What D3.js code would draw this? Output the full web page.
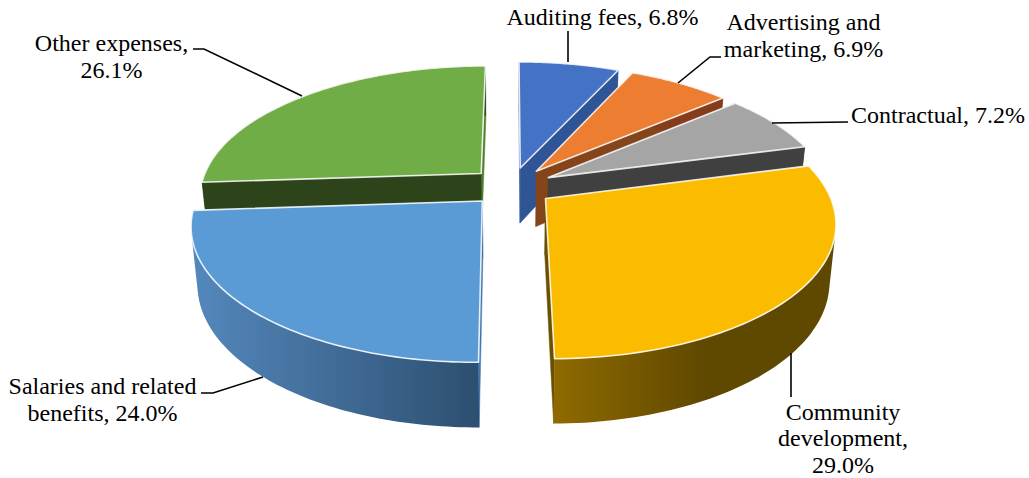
<!DOCTYPE html>
<html>
<head>
<meta charset="utf-8">
<script src="https://cdn.jsdelivr.net/npm/d3@7/dist/d3.min.js"></script>
<style>
html,body{margin:0;padding:0;background:#fff;}
svg{display:block;}
text{font-family:"Liberation Serif",serif;font-size:24px;fill:#000;}
</style>
</head>
<body>
<svg id="chart" width="1029" height="478"></svg>
<script>
// Data
const categories = ["Auditing fees","Advertising and marketing","Contractual","Community development","Salaries and related benefits","Other expenses"];
const shares = [6.8,6.9,7.2,29.0,24.0,26.1];
const labelLines = [["Auditing fees, 6.8%"],["Advertising and","marketing, 6.9%"],["Contractual, 7.2%"],["Community","development,","29.0%"],["Salaries and related","benefits, 24.0%"],["Other expenses,","26.1%"]];

// Styling
const topColors = ["#4472c4","#ed7d31","#a5a5a5","#fbbc00","#5b9bd5","#70ad47"];
const wallFrom = ["#2f5597","#843c1a","#404040","#8f6a00","#5488bd","#2d431a"];
const wallTo   = ["#2f5597","#843c1a","#404040","#5f4800","#2d4f70","#2d431a"];
const startFace = ["#2f5597","#84451a","#404040","#6b5000","#3f75b0","#2d431a"];
const endFace   = ["#2f5597","#84451a","#404040","#6b5000","#3f75b0","#4f7f2e"];

// Layout
const labelAnchors = [[602.5,25],[803.5,29.5],[938,123],[843,420],[102.5,394],[111.5,51]];
const lineSteps = [27.3,27.3,27.3,26.4,27.3,27.3];
const leaders = [
  [[568,62],[568,31]],
  [[678,83],[710,57],[721,57]],
  [[772,123],[848,122]],
  [[791,353],[791,397]],
  [[263,377],[213,393],[201,393]],
  [[302,96],[204,49],[193,49]]
];
const vx=511.5, vy=186.5, R=281, Ry=129.3, k=0.1655, explode=0.15, h=56, zs=0.98;

const svg = d3.select("#chart");
const defs = svg.append("defs");
const pie = d3.pie().sort(null).value(d=>d);
const arcs = pie(shares);
const line = d3.line();

function project(X,Y,bottom){
  const s = 1/(1+k*Y), z = bottom?zs:1;
  return [vx+R*X*s*z, vy-Ry*Y*s*z+(bottom?h*s:0)];
}
function quad(a,b,c,d){
  const area = d3.polygonArea([a,b,c,d]);
  return line(area>0?[a,b,c,d]:[d,c,b,a])+"Z";
}
// paint back to front
const order = [5,0,1,2,4,3];

order.forEach(i=>{
  const a = arcs[i], mid=(a.startAngle+a.endAngle)/2;
  const cx = explode*Math.sin(mid), cy = explode*Math.cos(mid);
  const n = 80;
  const ang = d3.scaleLinear().domain([0,n]).range([a.startAngle,a.endAngle]);
  const rimXY = d3.range(n+1).map(j=>[cx+Math.sin(ang(j)),cy+Math.cos(ang(j))]);
  const rimTop = rimXY.map(p=>project(p[0],p[1],false));
  const rimBot = rimXY.map(p=>project(p[0],p[1],true));
  const apexT = project(cx,cy,false), apexB = project(cx,cy,true);

  const xs = rimTop.map(p=>p[0]);
  const gid = "wall"+i;
  const g = defs.append("linearGradient").attr("id",gid).attr("gradientUnits","userSpaceOnUse")
    .attr("x1",d3.min(xs)).attr("x2",i===3?d3.min(xs)+150:d3.max(xs)).attr("y1",0).attr("y2",0);
  g.append("stop").attr("offset",0).attr("stop-color",wallFrom[i]);
  g.append("stop").attr("offset",1).attr("stop-color",wallTo[i]);

  const grp = svg.append("g").attr("class","slice").attr("data-name",categories[i]);
  const face = (j,c)=>grp.append("path")
      .attr("d",line([apexT,rimTop[j],rimBot[j],apexB])+"Z")
      .attr("fill",c).attr("stroke",c).attr("stroke-width",0.5);
  // the face turned toward the viewer is painted last
  if(i>=4){ face(n,endFace[i]); face(0,startFace[i]); }
  else    { face(0,startFace[i]); face(n,endFace[i]); }
  // outer wall built from quads so its silhouette follows the tangent lines
  const wallPath = d3.range(n).map(j=>quad(rimTop[j],rimTop[j+1],rimBot[j+1],rimBot[j])).join("");
  grp.append("path").attr("d",wallPath).attr("fill",`url(#${gid})`).attr("stroke","none");
  // top
  grp.append("path")
    .attr("d",line([apexT].concat(rimTop))+"Z")
    .attr("fill",topColors[i]).attr("stroke","#fff").attr("stroke-opacity",0.85)
    .attr("stroke-width",1.6).attr("stroke-linejoin","round");
});

// leaders
leaders.forEach(pts=>{
  svg.append("path").attr("d",line(pts)).attr("fill","none").attr("stroke","#000").attr("stroke-width",1.6);
});

// labels
labelLines.forEach((ls,i)=>{
  const t = svg.append("text").attr("text-anchor","middle");
  ls.forEach((s,j)=>{
    t.append("tspan").attr("x",labelAnchors[i][0]).attr("y",labelAnchors[i][1]+j*lineSteps[i]).text(s);
  });
});
</script>
</body>
</html>
